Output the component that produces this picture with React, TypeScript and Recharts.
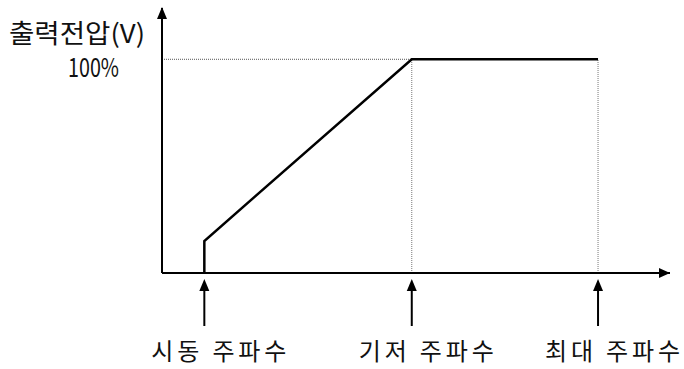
import React from 'react';
import {
  LineChart,
  Line,
  XAxis,
  YAxis,
  ReferenceLine,
  ReferenceDot,
} from 'recharts';

// V/F curve: start freq -> base freq -> max freq
const freqPoints = [10, 10, 59, 103];
const voltPoints = [0, 15, 100, 100];

const freqTicks = [10, 59, 103];
const freqLabels = ['시동 주파수', '기저 주파수', '최대 주파수'];

const voltTicks = [100];
const voltLabels = ['100%'];
const yTitle = '출력전압(V)';

const X_MAX = 120;
const Y_MAX = 124;

const FONT = '"Noto Sans CJK KR", "Noto Sans", sans-serif';

const chartData = freqPoints.map((f, i) => ({ f, v: voltPoints[i] }));

const FreqTick = (props: any) => {
  const { x, y, payload } = props;
  const idx = freqTicks.indexOf(payload.value);
  return (
    <g>
      <line x1={x} x2={x} y1={y + 16} y2={y + 53} stroke="#000" strokeWidth={2} />
      <path d={`M${x},${y + 6} L${x - 5},${y + 18} L${x + 5},${y + 18} Z`} fill="#000" />
      <text
        x={x - 53}
        y={y + 87}
        fontFamily={FONT}
        fontSize={24}
        textLength={135}
        lengthAdjust="spacing"
        fill="#111"
      >
        {freqLabels[idx]}
      </text>
    </g>
  );
};

const VoltTick = (props: any) => {
  const { y, payload } = props;
  const idx = voltTicks.indexOf(payload.value);
  return (
    <text
      x={68}
      y={y + 18}
      fontFamily={FONT}
      fontSize={26}
      textLength={51}
      lengthAdjust="spacingAndGlyphs"
      fill="#111"
    >
      {voltLabels[idx]}
    </text>
  );
};

const YTitle = () => (
  <text
    x={9}
    y={43}
    fontFamily={FONT}
    fontSize={26}
    textLength={136}
    lengthAdjust="spacingAndGlyphs"
    fill="#111"
  >
    {yTitle}
  </text>
);

const UpArrow = (props: any) => {
  const { cx, cy } = props;
  return <path d={`M${cx},${cy - 1} L${cx - 5},${cy + 11} L${cx + 5},${cy + 11} Z`} fill="#000" />;
};

const RightArrow = (props: any) => {
  const { cx, cy } = props;
  return <path d={`M${cx},${cy} L${cx - 11},${cy - 5} L${cx - 11},${cy + 5} Z`} fill="#000" />;
};

const App: React.FC = () => {
  return (
    <div style={{ position: 'absolute', left: 0, top: 0 }}>
      <LineChart
        width={684}
        height={369}
        data={chartData}
        margin={{ top: 8, right: 14, bottom: 95, left: 161 }}
      >
        <XAxis
          type="number"
          dataKey="f"
          domain={[0, X_MAX]}
          ticks={freqTicks}
          tick={<FreqTick />}
          tickLine={false}
          tickSize={0}
          tickMargin={0}
          height={1}
          axisLine={{ stroke: '#000', strokeWidth: 2 }}
          allowDataOverflow
        />
        <YAxis
          type="number"
          domain={[0, Y_MAX]}
          ticks={voltTicks}
          tick={<VoltTick />}
          tickLine={false}
          tickSize={0}
          tickMargin={0}
          width={1}
          axisLine={{ stroke: '#000', strokeWidth: 2 }}
          label={<YTitle />}
          allowDataOverflow
        />
        <ReferenceLine
          segment={[{ x: 0, y: 100 }, { x: freqPoints[2], y: 100 }]}
          stroke="#555"
          strokeDasharray="1 1"
          ifOverflow="visible"
        />
        <ReferenceLine
          segment={[{ x: freqPoints[2], y: 0 }, { x: freqPoints[2], y: 100 }]}
          stroke="#777"
          strokeDasharray="1 1"
          ifOverflow="visible"
        />
        <ReferenceLine
          segment={[{ x: freqPoints[3], y: 0 }, { x: freqPoints[3], y: 100 }]}
          stroke="#777"
          strokeDasharray="1 1"
          ifOverflow="visible"
        />
        <Line
          type="linear"
          dataKey="v"
          stroke="#000"
          strokeWidth={2.5}
          dot={false}
          activeDot={false}
          isAnimationActive={false}
        />
        <ReferenceDot x={0} y={Y_MAX} r={0} shape={<UpArrow />} ifOverflow="visible" />
        <ReferenceDot x={X_MAX} y={0} r={0} shape={<RightArrow />} ifOverflow="visible" />
      </LineChart>
    </div>
  );
};

export default App;
